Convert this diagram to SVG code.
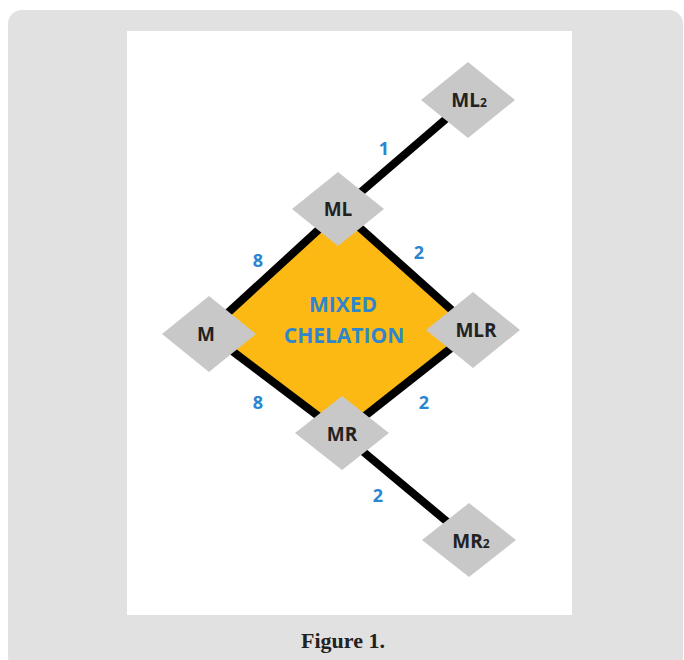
<svg xmlns="http://www.w3.org/2000/svg" width="684" height="660" viewBox="0 0 684 660">
<style>
.node{fill:#c8c8c8;}
.lbl{font-family:"Open Sans","Liberation Sans",sans-serif;font-weight:bold;font-size:19px;fill:#222;text-anchor:middle;}
.sub{font-size:12px;}
.num{font-family:"Open Sans","Liberation Sans",sans-serif;font-weight:bold;font-size:18px;fill:#2a86d1;text-anchor:middle;}
.edge{stroke:#000;stroke-width:8;fill:none;}
.title{font-family:"Open Sans","Liberation Sans",sans-serif;font-weight:bold;font-size:21px;fill:#2f86cc;text-anchor:middle;}
</style>
<rect x="8" y="10" width="675" height="660" rx="14" fill="#e1e1e1"/>
<rect x="127" y="31" width="445" height="584" fill="#ffffff"/>
<g id="mixed-chelation">
<polygon points="340,210 474,330 342,434 207,332" fill="#fdb913"/>
</g>
<g id="connectors">
<line class="edge" x1="207" y1="332" x2="340" y2="210"/>
<line class="edge" x1="340" y1="210" x2="474" y2="330"/>
<line class="edge" x1="207" y1="332" x2="342" y2="434"/>
<line class="edge" x1="342" y1="434" x2="474" y2="330"/>
<line class="edge" x1="340" y1="210" x2="468" y2="100"/>
<line class="edge" x1="342" y1="434" x2="469" y2="540"/>
</g>
<g id="labels">
<text class="num" x="384" y="155">1</text>
<text class="num" x="258" y="267">8</text>
<text class="num" x="419" y="259">2</text>
<text class="num" x="258" y="409">8</text>
<text class="num" x="424" y="409">2</text>
<text class="num" x="378" y="502">2</text>
<text class="title" x="343" y="312">MIXED</text>
<text class="title" x="344" y="343">CHELATION</text>
</g>
<g id="node-ML2">
<polygon class="node" points="468,62 515,100 468,138 421,100"/>
<text class="lbl" x="469" y="107">ML<tspan class="sub">2</tspan></text>
</g>
<g id="node-ML">
<polygon class="node" points="338,172 384,209 338,246 292,209"/>
<text class="lbl" x="338" y="216">ML</text>
</g>
<g id="node-M">
<polygon class="node" points="209,296 256,334 209,372 162,334"/>
<text class="lbl" x="206" y="341">M</text>
</g>
<g id="node-MLR">
<polygon class="node" points="473,292 520,330 473,368 426,330"/>
<text class="lbl" x="476" y="337">MLR</text>
</g>
<g id="node-MR">
<polygon class="node" points="342,396 389,433 342,470 295,433"/>
<text class="lbl" x="342" y="441">MR</text>
</g>
<g id="node-MR2">
<polygon class="node" points="469,503 516,540 469,577 422,540"/>
<text class="lbl" x="471" y="548">MR<tspan class="sub">2</tspan></text>
</g>
<text x="343" y="648" font-family="'Liberation Serif',serif" font-weight="bold" font-size="22" fill="#222" text-anchor="middle">Figure 1.</text>
</svg>
